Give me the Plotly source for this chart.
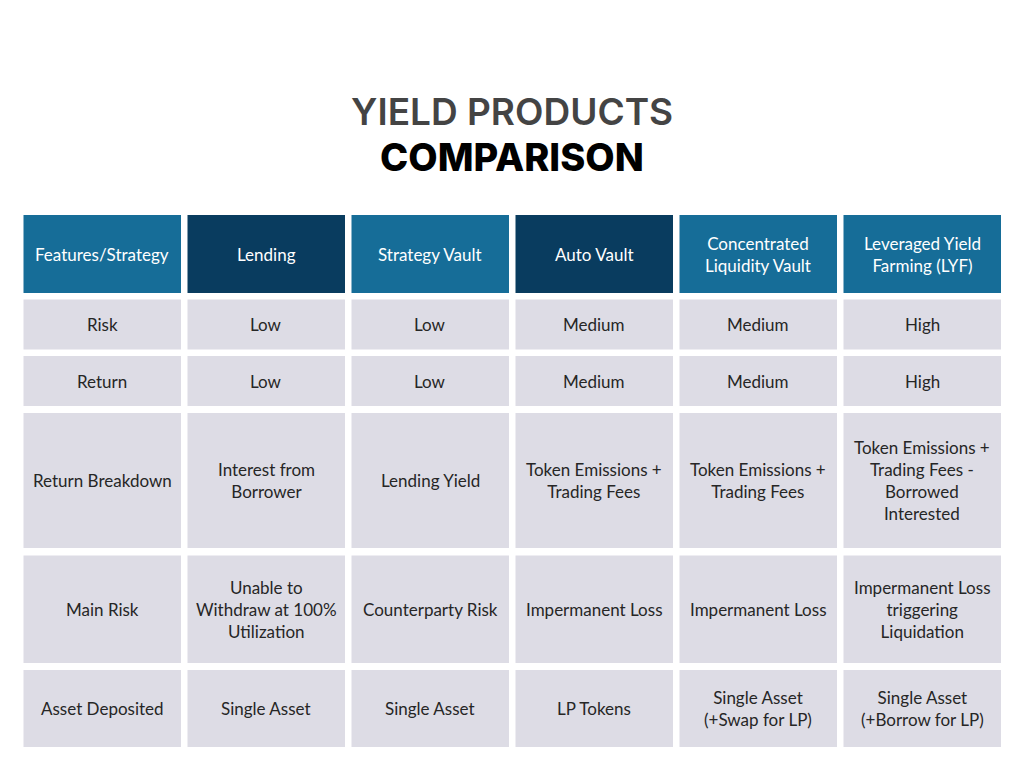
import plotly.graph_objects as go

# ---- data ----
headers = ["Features/Strategy", "Lending", "Strategy Vault", "Auto Vault",
           "Concentrated<br>Liquidity Vault", "Leveraged Yield<br>Farming (LYF)"]
features = ["Risk", "Return", "Return Breakdown", "Main Risk", "Asset Deposited"]
lending = ["Low", "Low", "Interest from<br>Borrower",
           "Unable to<br>Withdraw at 100%<br>Utilization", "Single Asset"]
strategy_vault = ["Low", "Low", "Lending Yield", "Counterparty Risk", "Single Asset"]
auto_vault = ["Medium", "Medium", "Token Emissions +<br>Trading Fees",
              "Impermanent Loss", "LP Tokens"]
cl_vault = ["Medium", "Medium", "Token Emissions +<br>Trading Fees",
            "Impermanent Loss", "Single Asset<br>(+Swap for LP)"]
lyf = ["High", "High", "Token Emissions +<br>Trading Fees -<br>Borrowed<br>Interested",
       "Impermanent Loss<br>triggering<br>Liquidation", "Single Asset<br>(+Borrow for LP)"]
columns = [features, lending, strategy_vault, auto_vault, cl_vault, lyf]

# ---- layout / style ----
TEAL = "#166D98"
NAVY = "#093C5F"
GREY = "#DDDCE5"
header_colors = [TEAL, NAVY, TEAL, NAVY, TEAL, TEAL]
col_x0 = [23.5 + 164 * i for i in range(6)]
col_w = 157.5
row_bounds = [(215, 293), (299.5, 349.5), (356, 406), (413, 548), (555.5, 663), (670, 747)]
FONT = "Lato"
BODY_SIZE = 17
OFF = 8  # page body margin

fig = go.Figure()
fig.add_trace(go.Scatter(x=[OFF, 1024], y=[OFF, 768], mode="markers",
                         marker=dict(opacity=0), hoverinfo="skip", showlegend=False))

shapes = []
annotations = []
for ci, col in enumerate(columns):
    x0 = col_x0[ci]
    x1 = x0 + col_w
    cx = (x0 + x1) / 2
    y0, y1 = row_bounds[0]
    shapes.append(dict(type="rect", xref="x", yref="y", x0=x0, x1=x1, y0=y0, y1=y1,
                       fillcolor=header_colors[ci], line=dict(width=0), layer="below"))
    annotations.append(dict(x=cx, y=(y0 + y1) / 2, xref="x", yref="y", text=headers[ci],
                            showarrow=False, xanchor="center", yanchor="middle",
                            font=dict(family=FONT, size=BODY_SIZE, color="white")))
    for ri, val in enumerate(col):
        y0, y1 = row_bounds[ri + 1]
        shapes.append(dict(type="rect", xref="x", yref="y", x0=x0, x1=x1, y0=y0, y1=y1,
                           fillcolor=GREY, line=dict(width=0), layer="below"))
        annotations.append(dict(x=cx, y=(y0 + y1) / 2, xref="x", yref="y", text=val,
                                showarrow=False, xanchor="center", yanchor="middle",
                                font=dict(family=FONT, size=BODY_SIZE, color="#262626")))

annotations.append(dict(x=512, y=111, xref="x", yref="y", text="YIELD PRODUCTS",
                        showarrow=False, xanchor="center", yanchor="middle",
                        font=dict(family="Inter", size=37, color="#444444", weight=600)))
annotations.append(dict(x=512, y=157, xref="x", yref="y", text="COMPARISON",
                        showarrow=False, xanchor="center", yanchor="middle",
                        font=dict(family="Inter", size=38, color="#000000", weight=800)))

fig.update_layout(
    width=1024 - OFF, height=768 - OFF,
    margin=dict(l=0, r=0, t=0, b=0),
    paper_bgcolor="white", plot_bgcolor="white",
    xaxis=dict(range=[OFF, 1024], visible=False, fixedrange=True),
    yaxis=dict(range=[768, OFF], visible=False, fixedrange=True),
    shapes=shapes, annotations=annotations, showlegend=False,
)

fig.write_html("out.html", config={"displayModeBar": False})
